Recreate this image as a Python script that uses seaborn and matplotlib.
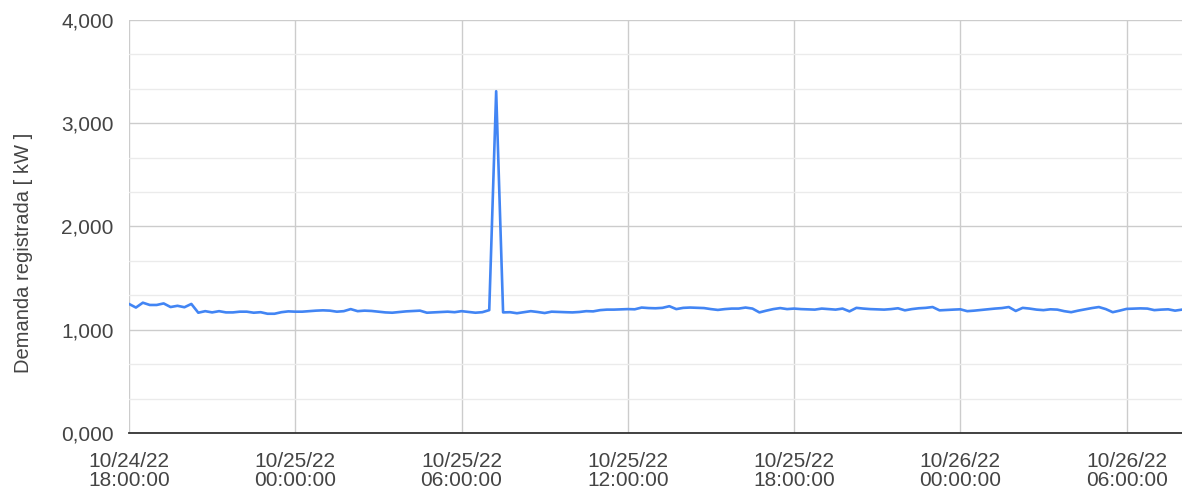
import pandas as pd
import matplotlib
matplotlib.use("Agg")
import matplotlib.pyplot as plt
import matplotlib.ticker as mticker
import seaborn as sns

# 15-minute readings starting 10/24/22 18:00
start_time = "2022-10-24 18:00"
demand_kw = [
    1250, 1215, 1262, 1240, 1240, 1255, 1220, 1232, 1218, 1250,
    1165, 1180, 1168, 1180, 1168, 1168, 1175, 1175, 1165, 1170,
    1155, 1155, 1170, 1178, 1175, 1175, 1180, 1185, 1188, 1185,
    1175, 1180, 1200, 1180, 1185, 1182, 1175, 1168, 1165, 1172,
    1178, 1182, 1185, 1165, 1168, 1172, 1175, 1170, 1180, 1172,
    1165, 1170, 1190, 3310, 1168, 1170, 1160, 1170, 1180, 1172,
    1162, 1175, 1172, 1170, 1168, 1172, 1180, 1178, 1190, 1195,
    1195, 1198, 1200, 1198, 1215, 1210, 1208, 1212, 1228, 1200,
    1212, 1215, 1212, 1210, 1200, 1192, 1200, 1205, 1205, 1215,
    1205, 1168, 1185, 1200, 1210, 1200, 1205, 1200, 1198, 1195,
    1205, 1200, 1195, 1205, 1178, 1212, 1205, 1200, 1198, 1195,
    1200, 1208, 1188, 1200, 1208, 1212, 1220, 1188, 1192, 1195,
    1198, 1180, 1185, 1192, 1198, 1205, 1210, 1220, 1182, 1212,
    1205, 1195, 1190, 1198, 1195, 1180, 1170, 1185, 1198, 1210,
    1220, 1200, 1170, 1185, 1202, 1205, 1207, 1205, 1190, 1195,
    1198, 1185, 1195,
]

y_ticks = [0, 1000, 2000, 3000, 4000]
y_tick_labels = ["0,000", "1,000", "2,000", "3,000", "4,000"]
x_tick_times = [
    "2022-10-24 18:00", "2022-10-25 00:00", "2022-10-25 06:00",
    "2022-10-25 12:00", "2022-10-25 18:00", "2022-10-26 00:00",
    "2022-10-26 06:00",
]
x_tick_labels = [
    "10/24/22\n18:00:00", "10/25/22\n00:00:00", "10/25/22\n06:00:00",
    "10/25/22\n12:00:00", "10/25/22\n18:00:00", "10/26/22\n00:00:00",
    "10/26/22\n06:00:00",
]

times = pd.date_range(start_time, periods=len(demand_kw), freq="15min")
df = pd.DataFrame({"Hora": times, "Demanda": demand_kw})

sns.set_theme(style="white")
plt.rcParams["font.family"] = ["Liberation Sans", "DejaVu Sans"]

fig = plt.figure(figsize=(11.82, 4.97), dpi=100)
ax = fig.add_axes([129 / 1182, 64 / 497, 1053 / 1182, 413 / 497])

sns.lineplot(data=df, x="Hora", y="Demanda", color="#4285f4", linewidth=1.9, ax=ax)

ax.set_ylim(0, 4000)
ax.set_xlim(times[0], times[-1])
ax.set_yticks(y_ticks)
ax.set_yticklabels(y_tick_labels)
ax.yaxis.set_minor_locator(mticker.MultipleLocator(1000 / 3))
ax.set_xticks(pd.to_datetime(x_tick_times))
ax.set_xticklabels(x_tick_labels)
for lbl in ax.get_xticklabels():
    lbl.set_linespacing(1.0)

ax.set_axisbelow(True)
ax.grid(which="major", color="#cccccc", linewidth=1.0)
ax.grid(which="minor", axis="y", color="#ebebeb", linewidth=1.0)

for side in ["left", "top", "right"]:
    ax.spines[side].set_visible(False)
ax.spines["bottom"].set_color("#333333")
ax.spines["bottom"].set_linewidth(1.3)

ax.tick_params(axis="y", which="both", length=0, pad=11, labelsize=15, labelcolor="#444444")
ax.tick_params(axis="x", which="major", direction="inout", length=16, width=1.3,
               color="#333333", pad=6, labelsize=15, labelcolor="#444444")

ax.set_xlabel("")
ax.set_ylabel("Demanda registrada [ kW ]", fontsize=14.5, color="#444444")
ax.yaxis.set_label_coords((33 - 129) / 1053, (433 - 253) / 413)

fig.savefig("out.png", dpi=100)
